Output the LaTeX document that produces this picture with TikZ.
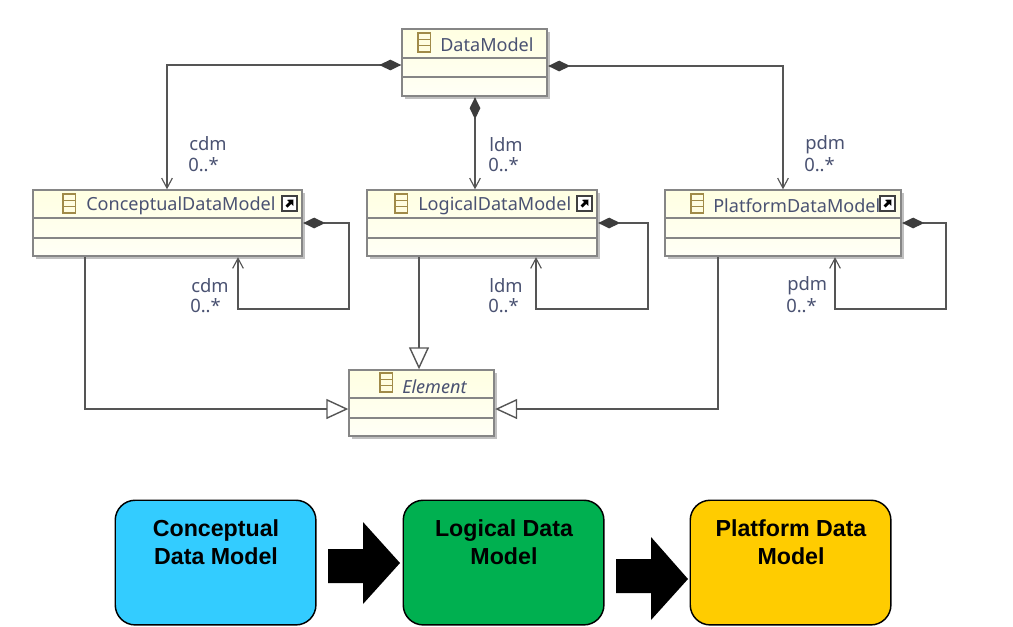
\documentclass[tikz,border=0pt]{standalone}
\usepackage{fontspec}
\setmainfont{Liberation Sans}
\newfontfamily\umlfont{Noto Sans}
\usetikzlibrary{arrows.meta,calc,positioning}
\definecolor{umltext}{HTML}{4A5272}
\definecolor{umlline}{HTML}{868686}
\definecolor{connc}{HTML}{555555}
\definecolor{dia}{HTML}{3C3C3C}
\definecolor{iconc}{HTML}{A08A48}
\definecolor{umltop}{HTML}{FFFFE2}
\definecolor{umlbot}{HTML}{FFFFF6}
\tikzset{
  x=0.75pt,y=-0.75pt,
  umlbox/.style={draw=umlline,line width=1.4pt,top color=umltop,bottom color=umlbot,inner sep=0,anchor=north west,rectangle},
  umlshadow/.style={fill=black!35,draw=none,opacity=.7},
  umlsep/.style={draw=umlline,line width=1.1pt},
  umltitle/.style={font=\umlfont\fontsize{13.55}{16}\selectfont,text=umltext,anchor=west,inner sep=0},
  umllabel/.style={font=\umlfont\fontsize{13.8}{15}\selectfont,text=umltext,anchor=west,inner sep=0},
  connline/.style={draw=connc,line width=1pt},
  compo/.style={connline,{Diamond[fill=dia,color=dia,length=16.5pt,width=8pt]}-{Straight Barb[length=7.5pt,width=8pt,line width=.85pt]}},
  gener/.style={connline,-{Triangle[open,fill=white,length=16.5pt,width=15pt,line width=1.05pt]}},
  stage/.style={draw=black,line width=1.1pt,rounded corners=15pt,minimum width=150.5pt,minimum height=93.5pt,anchor=north west,inner sep=0,align=center},
  stagetext/.style={font=\fontsize{17.4}{21}\bfseries\selectfont,text=black,align=center,inner sep=0},
  blockarrow/.style={fill=black,draw=none},
}
% name, x, y, width, height, sep1, sep2
\newcommand{\classbox}[7]{%
  \fill[umlshadow] (#2+2.5,#3+2.5) rectangle ++(#4,#5);
  \node[umlbox,minimum width=#4*0.75pt,minimum height=#5*0.75pt] (#1) at (#2-.7,#3-.7) {};
  \draw[umlsep] (#2,#6) -- (#2+#4-1,#6);
  \draw[umlsep] (#2,#7) -- (#2+#4-1,#7);
}
\newcommand{\classicon}[2]{%
  \draw[iconc,line width=1pt,fill=yellow!12] (#1,#2) rectangle ++(12.5,19);
  \draw[iconc,line width=.9pt] (#1,#2+6.3) -- ++(12.5,0) (#1,#2+12.7) -- ++(12.5,0);
}
\newcommand{\linkicon}[2]{%
  \draw[black!75,line width=.8pt,fill=white] (#1,#2) rectangle ++(15,15);
  \fill[black] (#1+3.5,#2+9.5) -- (#1+7,#2+6) -- (#1+5,#2+3.8) -- (#1+11.5,#2+3.5) -- (#1+11.3,#2+9.8) -- (#1+9.2,#2+7.8) -- (#1+5.6,#2+11.6) -- cycle;
}
\begin{document}
\begin{tikzpicture}
\useasboundingbox (0,0) rectangle (1013,626);
\fill[white] (0,0) rectangle (1013,626);

\classbox{dm}{402}{29}{145}{67}{58}{77}
\classbox{cdm}{33}{190}{269}{66}{218}{238}
\classbox{ldm}{367}{190}{230}{66}{218}{238}
\classbox{pdm}{665}{190}{236}{66}{218}{238}
\classbox{el}{349}{370}{145}{66}{398}{418}

\classicon{418}{33}
\classicon{63}{194}
\classicon{395}{194}
\classicon{691}{194}
\classicon{380}{373}
\linkicon{282}{196}
\linkicon{577}{196}
\linkicon{880}{196}

\node[umltitle] (tdm) at (440,45) {DataModel};
\node[umltitle] (tcdm) at (86,206) {ConceptualDataModel};
\node[umltitle] (tldm) at (418,206) {LogicalDataModel};
\node[umltitle] (tpdm) at (713,206) {PlatformDataModel};
\node[umltitle] (tel) at (402,387) {\itshape Element};

% compositions
\draw[compo] (dm.west |- 0,65) -| (cdm.north -| 167,0);
\draw[compo] (dm.east |- 0,66) -| (pdm.north -| 783,0);
\draw[compo] (dm.south -| 475,0) -- (ldm.north -| 475,0);
\draw[compo] (cdm.east |- 0,223) -- (349,223) -- (349,309) -- (238,309) -- (cdm.south -| 238,0);
\draw[compo] (ldm.east |- 0,223) -- (648,223) -- (648,309) -- (536,309) -- (ldm.south -| 536,0);
\draw[compo] (pdm.east |- 0,223) -- (946,223) -- (946,309) -- (835,309) -- (pdm.south -| 835,0);

% generalisations
\draw[gener] (cdm.south -| 85,0) |- (el.west |- 0,409);
\draw[gener] (ldm.south -| 419,0) -- (el.north -| 419,0);
\draw[gener] (pdm.south -| 718,0) |- (el.east |- 0,409);

% labels
\node[umllabel] (l1) at (189,144) {cdm};
\node[umllabel] (l2) at (188,165) {0..*};
\node[umllabel] (l3) at (489,145) {ldm};
\node[umllabel] (l4) at (488,165) {0..*};
\node[umllabel] (l5) at (805,145) {pdm};
\node[umllabel] (l6) at (804,165) {0..*};
\node[umllabel] (l7) at (191,286) {cdm};
\node[umllabel] (l8) at (190,306) {0..*};
\node[umllabel] (l9) at (489,286) {ldm};
\node[umllabel] (l10) at (488,306) {0..*};
\node[umllabel] (l11) at (787,286) {pdm};
\node[umllabel] (l12) at (786,306) {0..*};

% bottom row
\node[stage,fill={rgb,255:red,51;green,204;blue,255}] (s1) at (114.5,499.5) {};
\node[stage,fill={rgb,255:red,0;green,176;blue,80}] (s2) at (402.5,499.5) {};
\node[stage,fill={rgb,255:red,255;green,204;blue,0}] (s3) at (689.5,499.5) {};
\node[stagetext] (t1) at (216,542) {Conceptual\\Data Model};
\node[stagetext] (t2) at (504,542) {Logical Data\\Model};
\node[stagetext] (t3) at (791,542) {Platform Data\\Model};

\fill[blockarrow] (328,549) -- (363,549) -- (363,522) -- (400,563) -- (363,604) -- (363,583) -- (328,583) -- cycle;
\fill[blockarrow] (616,559) -- (651,559) -- (651,537) -- (688,579) -- (651,620) -- (651,593) -- (616,593) -- cycle;
\end{tikzpicture}
\end{document}
